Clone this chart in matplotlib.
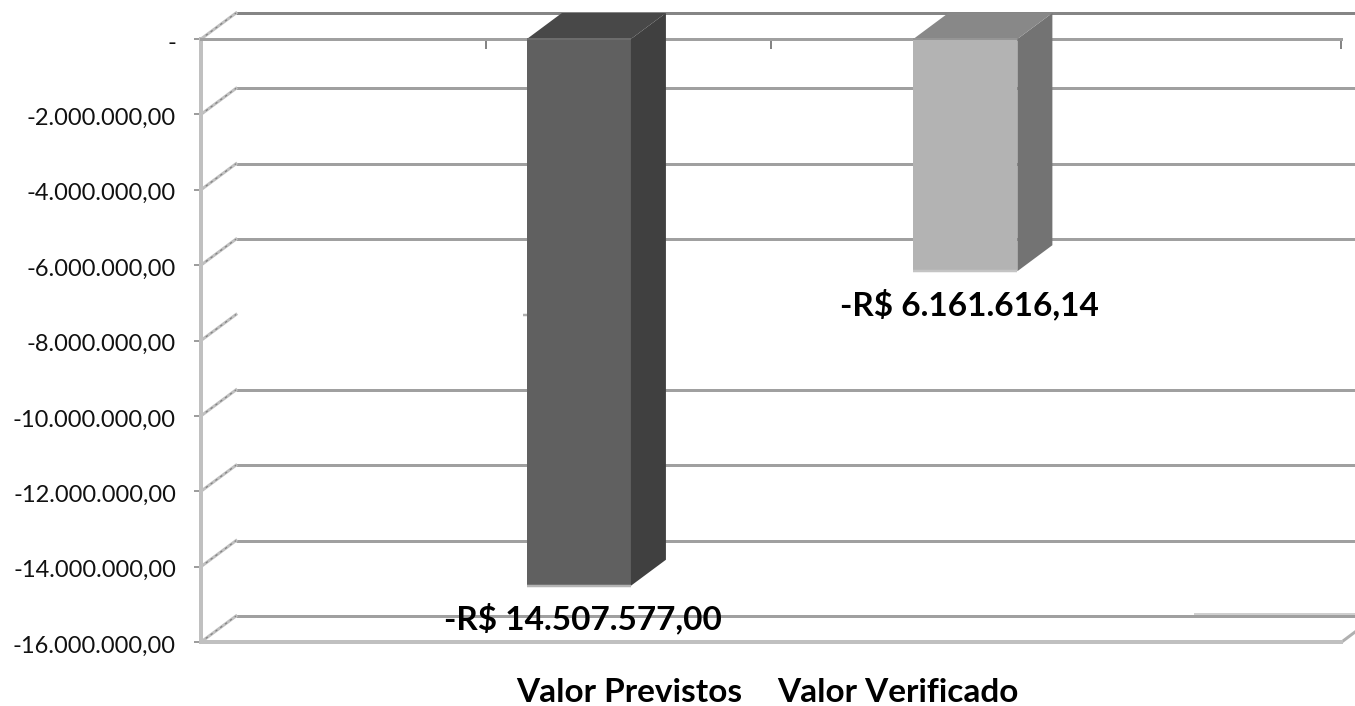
import matplotlib
matplotlib.use("Agg")
import matplotlib.pyplot as plt
from matplotlib.patches import Polygon
from matplotlib.ticker import FuncFormatter
from matplotlib.transforms import ScaledTranslation

# Values
categories = ["Valor Previstos", "Valor Verificado"]
values = [-14507577.00, -6161616.14]
value_labels = ["-R$ 14.507.577,00", "-R$ 6.161.616,14"]
y_ticks = [0, -2e6, -4e6, -6e6, -8e6, -10e6, -12e6, -14e6, -16e6]
y_gridded = [0, -2e6, -4e6, -6e6, -10e6, -12e6, -14e6, -16e6]

# Style
W, H = 1355, 706
LEFT, RIGHT, TOP, BOTTOM = 201, 1341, 39, 642
PX_PER_X = (RIGHT - LEFT) / 4
PX_PER_Y = (BOTTOM - TOP) / 16e6
px = 72 / 100  # points per pixel at dpi 100
DX = 35 / PX_PER_X
DY = 26 / PX_PER_Y
XMAX_FIG = (W - LEFT) / PX_PER_X
bar_x = [1.326, 2.682]
bar_w = 0.365
face = ["#606060", "#b3b3b3"]
side = ["#404040", "#737373"]
roof = ["#484848", "#888888"]
edge = ["#b4b4b4", "#c4c4c4"]
rim = ["#6c6c6c", "#959595"]

plt.rcParams["font.family"] = ["Lato", "DejaVu Sans"]
fig = plt.figure(figsize=(W / 100, H / 100), dpi=100, facecolor="white")
ax = fig.add_axes([LEFT / W, 1 - BOTTOM / H, (RIGHT - LEFT) / W, (BOTTOM - TOP) / H])
ax.set_xlim(0, 4)
ax.set_ylim(-16e6, 0)
ax.patch.set_visible(False)

ax.spines["right"].set_visible(False)
ax.spines["left"].set(color="#c0c0c0", linewidth=4 * px, zorder=2)
ax.spines["bottom"].set(color="#c0c0c0", linewidth=4 * px, zorder=2)
ax.spines["top"].set(color="#a0a0a0", linewidth=3 * px, zorder=2)

ax.set_yticks(y_ticks)
ax.yaxis.set_major_formatter(FuncFormatter(
    lambda v, _: "-" if v == 0 else f"{v:,.2f}".replace(",", "#").replace(".", ",").replace("#", ".")))
ax.tick_params(axis="y", length=7 * px, width=1.6 * px, color="#858585", pad=18 * px,
               labelsize=17, labelcolor="#111111")
# Tick labels hang a little below their ticks
down = ScaledTranslation(0, -2 * px / 72, fig.dpi_scale_trans)
for lbl in ax.get_yticklabels():
    lbl.set_transform(lbl.get_transform() + down)
ax.xaxis.tick_top()
ax.set_xticks([0, 1, 2, 4])
ax.set_xticklabels([])
ax.tick_params(axis="x", direction="in", length=10 * px, width=2 * px, color="#858585")

# Back wall: gridlines shifted by the depth, joined to the front by diagonals
for v in y_gridded:
    ax.plot([DX, XMAX_FIG], [v + DY, v + DY], color="#858585" if v == 0 else "#a0a0a0",
            lw=3 * px, clip_on=False, zorder=1, solid_capstyle="butt")
for v in y_ticks:
    ax.plot([0, DX], [v, v + DY], color="#c0c0c0", lw=3 * px, clip_on=False, zorder=1)
    ax.plot([0, DX], [v, v + DY], color="#808080", lw=1.2 * px, ls=(0, (2, 3)), clip_on=False, zorder=1)
ax.plot([3.484, XMAX_FIG], [-16e6 + DY + 2 / PX_PER_Y] * 2, color="#c4c4c4", lw=1.6 * px,
        clip_on=False, zorder=1, solid_capstyle="butt")
ax.plot([4.007, XMAX_FIG], [-16e6 + 1 / PX_PER_Y, -16e6 + 10 / PX_PER_Y], color="#b0b0b0", lw=3 * px,
        clip_on=False, zorder=1)
ax.plot([bar_x[0] - bar_w / 2 - 0.012, bar_x[0] - bar_w / 2], [-8e6 + DY] * 2, color="#b0b0b0",
        lw=2.5 * px, clip_on=False, zorder=1, solid_capstyle="butt")

# Columns with their side and top faces
for x, v, f, s, r, e, t, lab in zip(bar_x, values, face, side, roof, edge, rim, value_labels):
    l, h = x - bar_w / 2, x + bar_w / 2
    ax.bar(x, v, width=bar_w, color=f, zorder=3, clip_on=False)
    ax.add_patch(Polygon([(h, 0), (h + DX, DY), (h + DX, v + DY), (h, v)], closed=True,
                         fc=s, ec="none", zorder=3, clip_on=False))
    ax.add_patch(Polygon([(l, 0), (l + DX, DY), (h + DX, DY), (h, 0)], closed=True,
                         fc=r, ec="none", zorder=3, clip_on=False))
    ax.plot([l, h], [v, v], color=e, lw=2.5 * px, zorder=4, solid_capstyle="butt", clip_on=False)
    ax.plot([l, h], [0, 0], color=t, lw=2 * px, zorder=4, solid_capstyle="butt", clip_on=False)
    ax.annotate(lab, (x, v), xytext=(4 * px, -33 * px), textcoords="offset points",
                ha="center", va="center", fontsize=24, fontweight="bold", color="#000000",
                zorder=7, annotation_clip=False)

# Category captions sit under the floor
for cx, cat in zip([629.5, 898], categories):
    ax.annotate(cat, ((cx - LEFT) / PX_PER_X, -16e6), xytext=(0, -51 * px),
                textcoords="offset points", ha="center", va="center",
                fontsize=24, fontweight="bold", color="#000000", annotation_clip=False)

fig.savefig("out.png", dpi=100, facecolor="white")
